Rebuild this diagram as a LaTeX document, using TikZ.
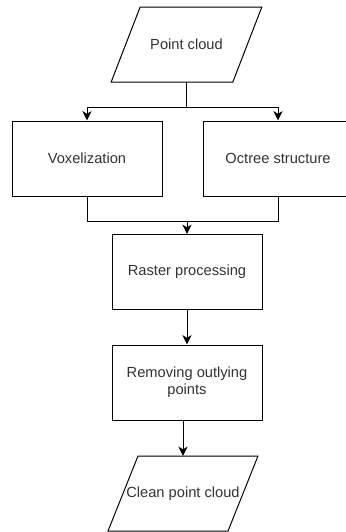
\documentclass[tikz,border=0pt]{standalone}
\usepackage{fontspec}
\setmainfont{Liberation Sans}
\usetikzlibrary{arrows.meta,calc}

\tikzset{
  wire/.style={line width=0.75pt, draw=black},
  arr/.style={wire, -{Stealth[length=7pt,width=6.8pt,inset=2pt]}},
  label/.style={font=\fontsize{11pt}{12.8pt}\selectfont, text=black!80, align=center},
  procbox/.style={label, wire, rectangle, minimum width=112.5pt, minimum height=56.25pt, inner sep=0pt},
  iobox/.style={label, rectangle, draw=none, minimum width=113pt, minimum height=56.25pt, inner sep=0pt, outer sep=0pt},
}

\begin{document}
\begin{tikzpicture}[x=0.75pt, y=-0.75pt]
  \useasboundingbox (0,0) rectangle (346,532);

  % input / output parallelograms
  \node[iobox] (pc) at (186.5,44.5) {Point cloud};
  \draw[wire] ($(pc.north west)+(29,0)$) -- (pc.north east)
              -- ($(pc.south east)-(29,0)$) -- (pc.south west) -- cycle;

  % processing steps
  \node[procbox] (vox) at (87,158.5) {Voxelization};
  \node[procbox] (oct) at (278,158.5) {Octree structure};
  \node[procbox] (ras) at (187,272) {Raster processing};
  \node[procbox] (rem) at (187,382.5) {Removing outlying\\points};

  \node[iobox, minimum width=112.5pt] (clean) at (183,493.5) {Clean point cloud};
  \draw[wire] ($(clean.north west)+(30,0)$) -- (clean.north east)
              -- ($(clean.south east)-(30,0)$) -- (clean.south west) -- cycle;

  % branch and merge points
  \coordinate (split) at (186.5,107);
  \coordinate (join) at (187,221);

  % connectors
  \draw[wire] (pc.south) -- (split);
  \draw[arr] (split) -| (vox.north);
  \draw[arr] (split) -| (oct.north);
  \draw[wire] (oct.south) |- (join);
  \draw[arr] (vox.south) |- (join) -- (ras.north);
  \draw[arr] (ras.south) -- (rem.north);
  \draw[arr] (rem.south -| clean.north) -- (clean.north);
\end{tikzpicture}
\end{document}
